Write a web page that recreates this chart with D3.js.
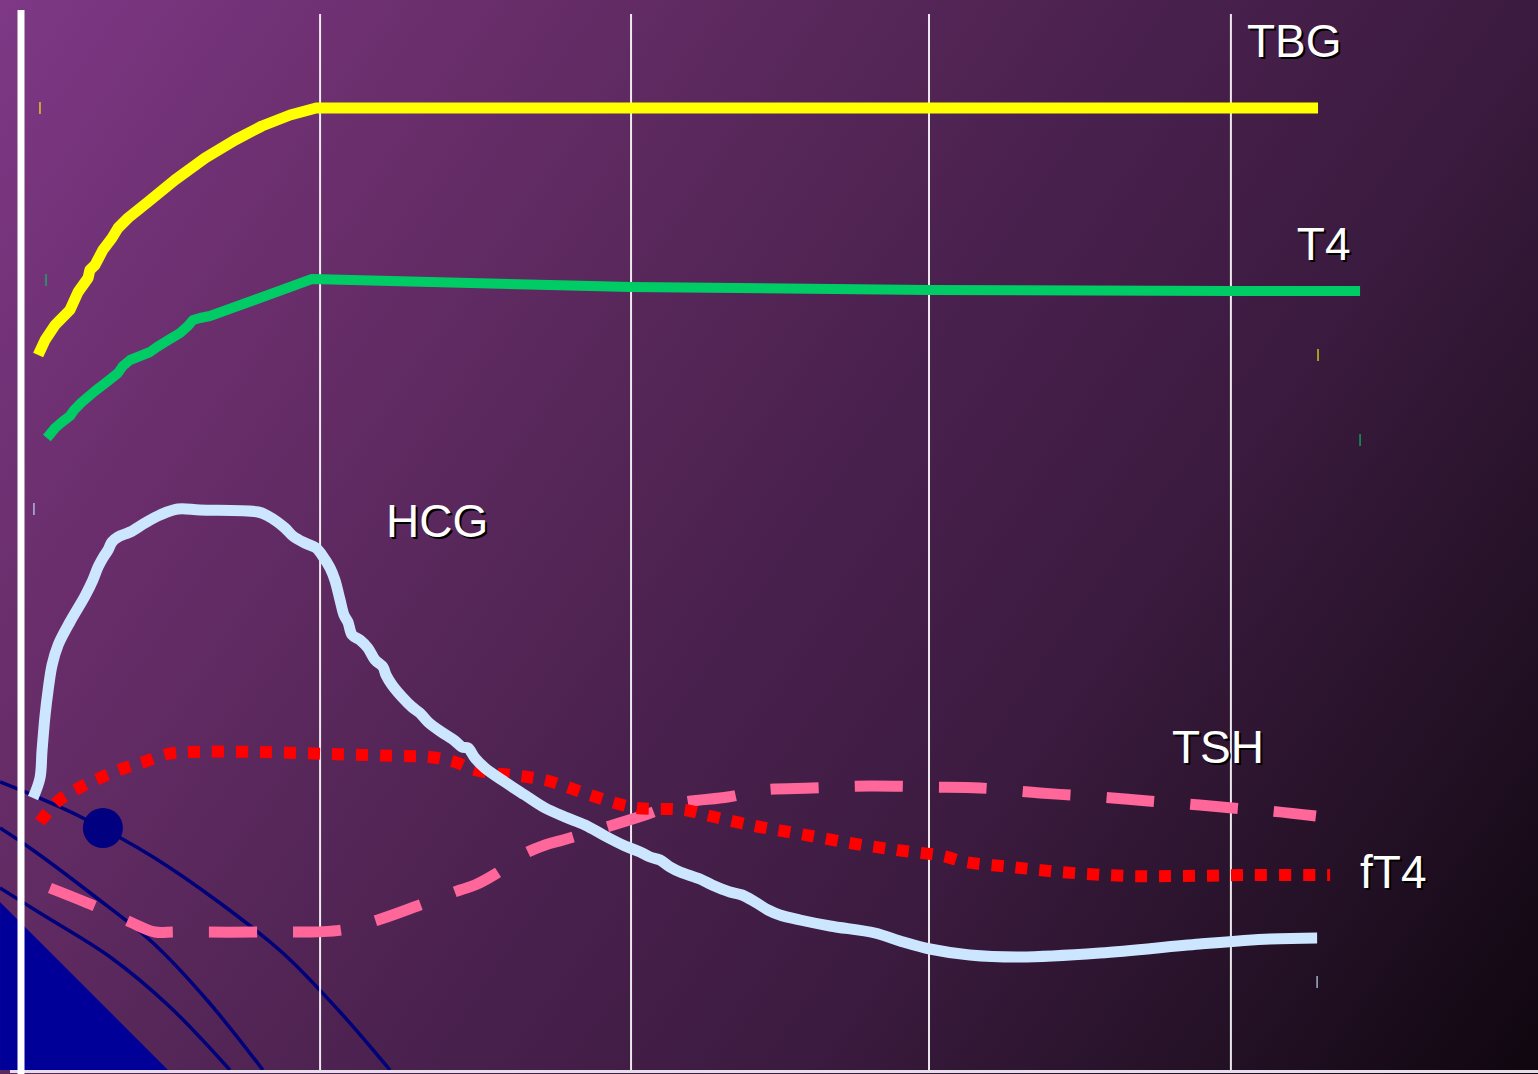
<!DOCTYPE html>
<html>
<head>
<meta charset="utf-8">
<title>Thyroid function in pregnancy</title>
<script src="https://cdn.jsdelivr.net/npm/d3@7/dist/d3.min.js"></script>
<style>
  html, body { margin: 0; padding: 0; background: #120610; overflow: hidden; }
  svg { display: block; }
</style>
</head>
<body>
<svg id="chart" width="1538" height="1074"></svg>
<script>
// Gestational week (x) and relative level (y) for each hormone curve.
const tbg = [
  [0.6, 71.5], [0.83, 73.0], [1.16, 74.5], [1.65, 76.0], [1.92, 77.8], [2.25, 79.2],
  [2.31, 80.0], [2.48, 80.5], [2.74, 82.0], [3.04, 83.2], [3.24, 84.2], [3.57, 85.2],
  [4.23, 86.8], [5.12, 89.0], [6.12, 91.2], [7.11, 93.0], [8.0, 94.4], [8.93, 95.5],
  [9.79, 96.2], [42.91, 96.2]
];
const t4 = [
  [0.89, 63.2], [1.16, 64.2], [1.39, 64.8], [1.65, 65.4], [1.79, 66.0], [2.05, 66.8],
  [2.48, 67.9], [2.91, 68.9], [3.24, 69.7], [3.4, 70.4], [3.64, 71.0], [3.97, 71.4],
  [4.3, 71.8], [4.53, 72.3], [4.96, 73.1], [5.29, 73.7], [5.55, 74.4], [5.72, 75.0],
  [5.95, 75.2], [6.28, 75.4], [7.93, 77.2], [9.65, 79.1], [20.2, 78.3], [30.05, 78.0],
  [40.03, 77.9], [44.3, 77.9]
];
const hcg = [
  [0.43, 27.2], [0.66, 29.2], [0.73, 32.0], [0.83, 35.5], [0.93, 38.0], [1.06, 40.5],
  [1.26, 42.5], [1.65, 44.8], [2.15, 47.4], [2.41, 49.0], [2.58, 50.3], [2.74, 51.2],
  [2.91, 52.0], [3.04, 52.8], [3.24, 53.3], [3.64, 53.8], [4.13, 54.7], [4.63, 55.5],
  [5.22, 56.1], [5.95, 56.0], [7.87, 55.8], [8.2, 55.4], [8.76, 54.2], [9.02, 53.4],
  [9.42, 52.7], [9.79, 52.2], [9.98, 51.5], [10.25, 50.2], [10.41, 49.0], [10.58, 47.0],
  [10.71, 45.5], [10.84, 44.8], [10.98, 43.5], [11.24, 43.0], [11.5, 42.2], [11.74, 41.0],
  [12.0, 40.3], [12.1, 39.5], [12.3, 38.5], [12.63, 37.3], [12.96, 36.3], [13.22, 35.7],
  [13.49, 34.8], [13.88, 33.9], [14.38, 32.9], [14.61, 32.3], [14.81, 32.2], [15.04, 31.2],
  [15.37, 30.2], [16.03, 28.8], [16.69, 27.5], [17.36, 26.2], [18.02, 25.3], [18.68, 24.5],
  [19.34, 23.4], [20.0, 22.4], [20.5, 21.8], [20.83, 21.3], [21.16, 21.0], [21.49, 20.3],
  [21.82, 19.8], [22.48, 19.1], [22.88, 18.5], [23.47, 17.8], [23.87, 17.5], [24.3, 16.8],
  [24.73, 16.0], [25.12, 15.5], [25.79, 15.0], [26.78, 14.4], [28.26, 13.7], [29.09, 12.9],
  [30.08, 12.1], [31.4, 11.5], [33.06, 11.3], [35.7, 11.7], [39.0, 12.6], [41.32, 13.1],
  [42.88, 13.2]
];
const ft4 = [
  [0.66, 24.8], [1.26, 26.9], [1.95, 28.2], [2.64, 29.2], [3.37, 30.1], [4.1, 30.8],
  [4.89, 31.6], [5.65, 31.8], [7.93, 31.8], [10.25, 31.6], [12.56, 31.4], [13.55, 31.3],
  [14.38, 30.8], [15.04, 30.0], [16.53, 29.4], [17.36, 29.0], [18.84, 27.5], [19.67, 26.7],
  [20.4, 26.2], [21.98, 26.0], [22.81, 25.4], [24.3, 24.4], [25.79, 23.6], [27.44, 22.7],
  [28.99, 22.0], [30.51, 21.4], [31.24, 20.8], [32.79, 20.3], [34.38, 19.8], [36.69, 19.4],
  [38.35, 19.4], [40.66, 19.5], [43.31, 19.5]
];
const tsh = [
  [0.99, 18.2], [2.55, 16.3], [3.64, 14.8], [4.46, 13.8], [5.12, 13.8], [7.93, 13.8],
  [10.64, 14.0], [11.83, 15.0], [13.22, 16.5], [14.55, 18.0], [15.04, 18.5], [15.77, 19.7],
  [16.6, 21.5], [17.36, 22.5], [17.95, 23.0], [19.17, 24.1], [20.66, 25.5], [21.82, 26.7],
  [23.4, 27.3], [24.56, 28.0], [26.18, 28.2], [28.1, 28.4], [30.08, 28.3], [31.74, 28.2],
  [33.72, 27.7], [35.7, 27.3], [37.29, 26.9], [39.0, 26.5], [40.07, 26.2], [41.32, 25.9],
  [42.84, 25.4]
];

// Series names and where their labels sit [week, level].
const seriesNames = ["TBG", "T4", "HCG", "TSH", "fT4"];
const labelPositions = [[40.56, 101.3], [42.21, 81.0], [12.1, 53.3], [38.08, 30.7], [44.3, 18.2]];

// Vertical reference lines (weeks) and small end ticks [week, level, series].
const gridWeeks = [9.92, 20.2, 30.05, 40.03];
const endTicks = [
  [0.66, 96.2, "TBG"], [42.91, 71.5, "TBG"],
  [0.86, 79.0, "T4"], [44.3, 63.0, "T4"],
  [0.46, 56.1, "HCG"], [42.88, 8.8, "HCG"]
];

// Decorative swoosh in the lower-left corner.
const swooshA = [[-0.66, 28.8], [0.56, 27.3], [2.08, 25.2], [4.4, 21.3], [6.61, 16.7], [8.69, 11.7], [10.58, 5.8], [12.23, 0]];
const swooshB = [[-0.66, 24.2], [0.33, 22.2], [2.41, 17.5], [4.4, 12.7], [6.18, 7.0], [8.03, 0]];
const swooshC = [[-0.66, 18.2], [0.66, 15.7], [2.98, 11.3], [4.96, 6.3], [6.94, 0]];
const wedge = [[-0.66, 16.8], [4.89, 0], [-0.66, 0]];
const dot = [2.74, 24.2];

const W = 1538, H = 1074;
const svg = d3.select("#chart");

const x = d3.scaleLinear().domain([0, 40]).range([20, 1230]);
const y = d3.scaleLinear().domain([0, 107]).range([1070, 0]);

// Background gradient, running corner to corner in page space
const defs = svg.append("defs");
const grad = defs.append("linearGradient")
  .attr("id", "bg").attr("gradientUnits", "userSpaceOnUse")
  .attr("x1", 0).attr("y1", 0).attr("x2", W).attr("y2", H);
[[0, "#7e3886"], [0.2, "#6a2e6c"], [0.35, "#5a285c"], [0.5, "#4a214e"],
 [0.67, "#3c1b40"], [0.85, "#241126"], [1, "#0f060f"]]
  .forEach(([o, c]) => grad.append("stop").attr("offset", o).attr("stop-color", c));
svg.append("rect").attr("width", W).attr("height", H).attr("fill", "url(#bg)");

const line = d3.line().x(d => x(d[0])).y(d => y(d[1]));
const smooth = d3.line().x(d => x(d[0])).y(d => y(d[1])).curve(d3.curveCatmullRom.alpha(0.5));

// Decorative swoosh
svg.append("path").datum(wedge).attr("d", line).attr("fill", "#000099");
[swooshA, swooshB, swooshC].forEach(s => {
  svg.append("path").datum(s).attr("d", smooth)
    .attr("fill", "none").attr("stroke", "#00007a").attr("stroke-width", 3.5);
});
svg.append("circle").attr("cx", x(dot[0])).attr("cy", y(dot[1])).attr("r", 20).attr("fill", "#000080");

// Vertical reference lines
svg.selectAll(".grid").data(gridWeeks).join("line")
  .attr("class", "grid")
  .attr("x1", d => x(d)).attr("x2", d => x(d))
  .attr("y1", y(105.6)).attr("y2", y(0))
  .attr("stroke", "#ffffff").attr("stroke-width", 2).attr("opacity", 0.9);

// Axes
svg.append("line").attr("x1", 10).attr("x2", W).attr("y1", y(0) + 1.5).attr("y2", y(0) + 1.5)
  .attr("stroke", "#e6dcea").attr("stroke-width", 3);
svg.append("line").attr("x1", 21).attr("x2", 21).attr("y1", 10).attr("y2", H)
  .attr("stroke", "#ffffff").attr("stroke-width", 7);

const colors = { TBG: "#ffff00", T4: "#00cc66", HCG: "#cce6ff", TSH: "#ff6699", fT4: "#ff0000" };

// Small end ticks
svg.selectAll(".endtick").data(endTicks).join("line")
  .attr("class", "endtick")
  .attr("x1", d => x(d[0])).attr("x2", d => x(d[0]))
  .attr("y1", d => y(d[1]) - 6).attr("y2", d => y(d[1]) + 6)
  .attr("stroke", d => colors[d[2]]).attr("stroke-width", 1.6).attr("opacity", 0.7);

// Hormone curves
const series = [
  { name: "TSH", data: tsh, gen: smooth, width: 11, dash: "48,36" },
  { name: "fT4", data: ft4, gen: smooth, width: 12, dash: "12,12" },
  { name: "HCG", data: hcg, gen: smooth, width: 11, dash: null },
  { name: "T4", data: t4, gen: line, width: 10, dash: null },
  { name: "TBG", data: tbg, gen: line, width: 11, dash: null }
];
series.forEach(s => {
  svg.append("path").datum(s.data)
    .attr("d", s.gen)
    .attr("fill", "none")
    .attr("stroke", colors[s.name])
    .attr("stroke-width", s.width)
    .attr("stroke-linejoin", "round")
    .attr("stroke-linecap", "butt")
    .attr("stroke-dasharray", s.dash);
});

// Labels with drop shadow
const labels = seriesNames.map((n, i) => ({ name: n, pos: labelPositions[i] }));
const lbl = svg.selectAll(".lbl").data(labels).join("g").attr("class", "lbl")
  .attr("font-family", "'Liberation Sans', Arial, sans-serif").attr("font-size", 46);
lbl.append("text").attr("x", d => x(d.pos[0]) + 2).attr("y", d => y(d.pos[1]) + 2)
  .attr("fill", "#000000").text(d => d.name);
lbl.append("text").attr("x", d => x(d.pos[0])).attr("y", d => y(d.pos[1]))
  .attr("fill", "#ffffff").text(d => d.name);
</script>
</body>
</html>
